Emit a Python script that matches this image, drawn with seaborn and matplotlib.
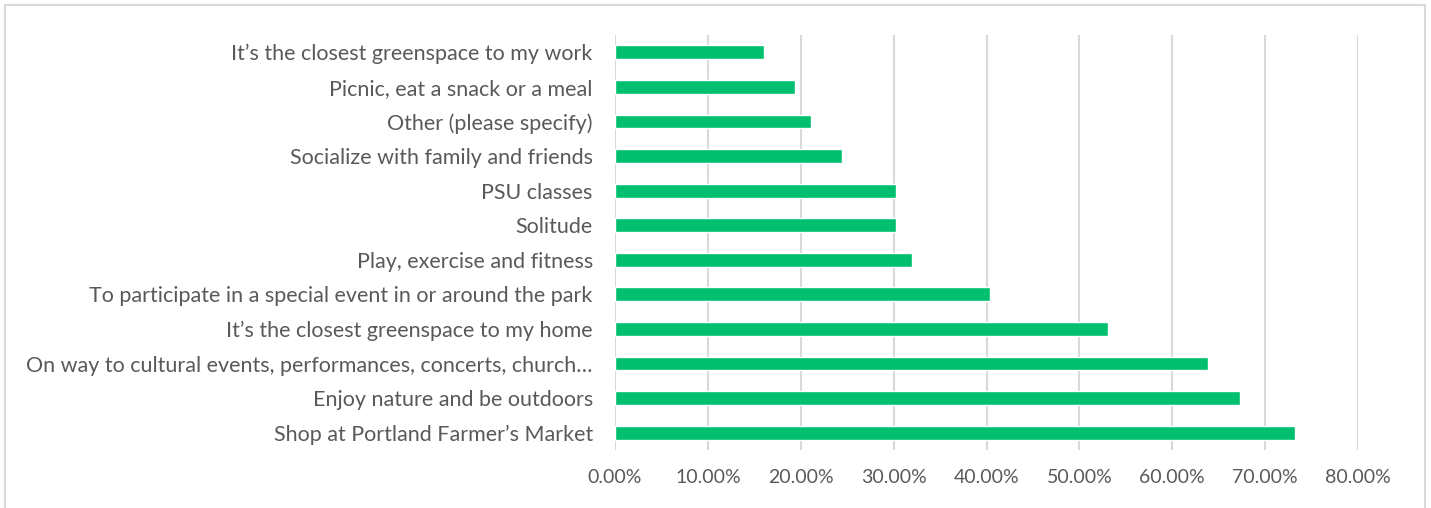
import seaborn as sns
import matplotlib.pyplot as plt
import pandas as pd
from matplotlib.patches import Rectangle
from matplotlib.ticker import PercentFormatter

reasons = [
    "It\u2019s the closest greenspace to my work",
    "Picnic, eat a snack or a meal",
    "Other (please specify)",
    "Socialize with family and friends",
    "PSU classes",
    "Solitude",
    "Play, exercise and fitness",
    "To participate in a special event in or around the park",
    "It\u2019s the closest greenspace to my home",
    "On way to cultural events, performances, concerts, church\u2026",
    "Enjoy nature and be outdoors",
    "Shop at Portland Farmer\u2019s Market",
]
shares = [0.160, 0.194, 0.211, 0.244, 0.303, 0.303, 0.320, 0.404, 0.531, 0.639, 0.673, 0.732]

df = pd.DataFrame({"reason": reasons, "share": shares})

sns.set_style("white")
plt.rcParams["font.family"] = ["Lato", "DejaVu Sans"]

fig = plt.figure(figsize=(14.31, 5.08), dpi=100)
ax = fig.add_axes([615 / 1431, 1 - 450 / 508, (1358 - 615) / 1431, 415 / 508])

sns.barplot(data=df, x="share", y="reason", order=reasons, color="#00BF6F",
            width=0.4, saturation=1, ax=ax)

ax.set_xlim(0, 0.8)
ax.set_ylim(11.5, -0.5)
ax.set_xticks([i / 10 for i in range(9)])
ax.xaxis.set_major_formatter(PercentFormatter(1.0, decimals=2))
ax.grid(axis="x", color="#D9D9D9", linewidth=1.5)
ax.set_axisbelow(True)
sns.despine(ax=ax, left=True, bottom=True)
ax.tick_params(axis="both", length=0, labelcolor="#595959")
ax.tick_params(axis="x", pad=14, labelsize=14)
ax.tick_params(axis="y", pad=16, labelsize=15.5)
ax.set_xlabel("")
ax.set_ylabel("")

# chart frame
fig.patches.append(Rectangle((5 / 1431, -0.02), 1420 / 1431, 1 - 5 / 508 + 0.02,
                             transform=fig.transFigure, fill=False,
                             edgecolor="#D9D9D9", linewidth=1.5))

fig.savefig("out.png", dpi=100)
